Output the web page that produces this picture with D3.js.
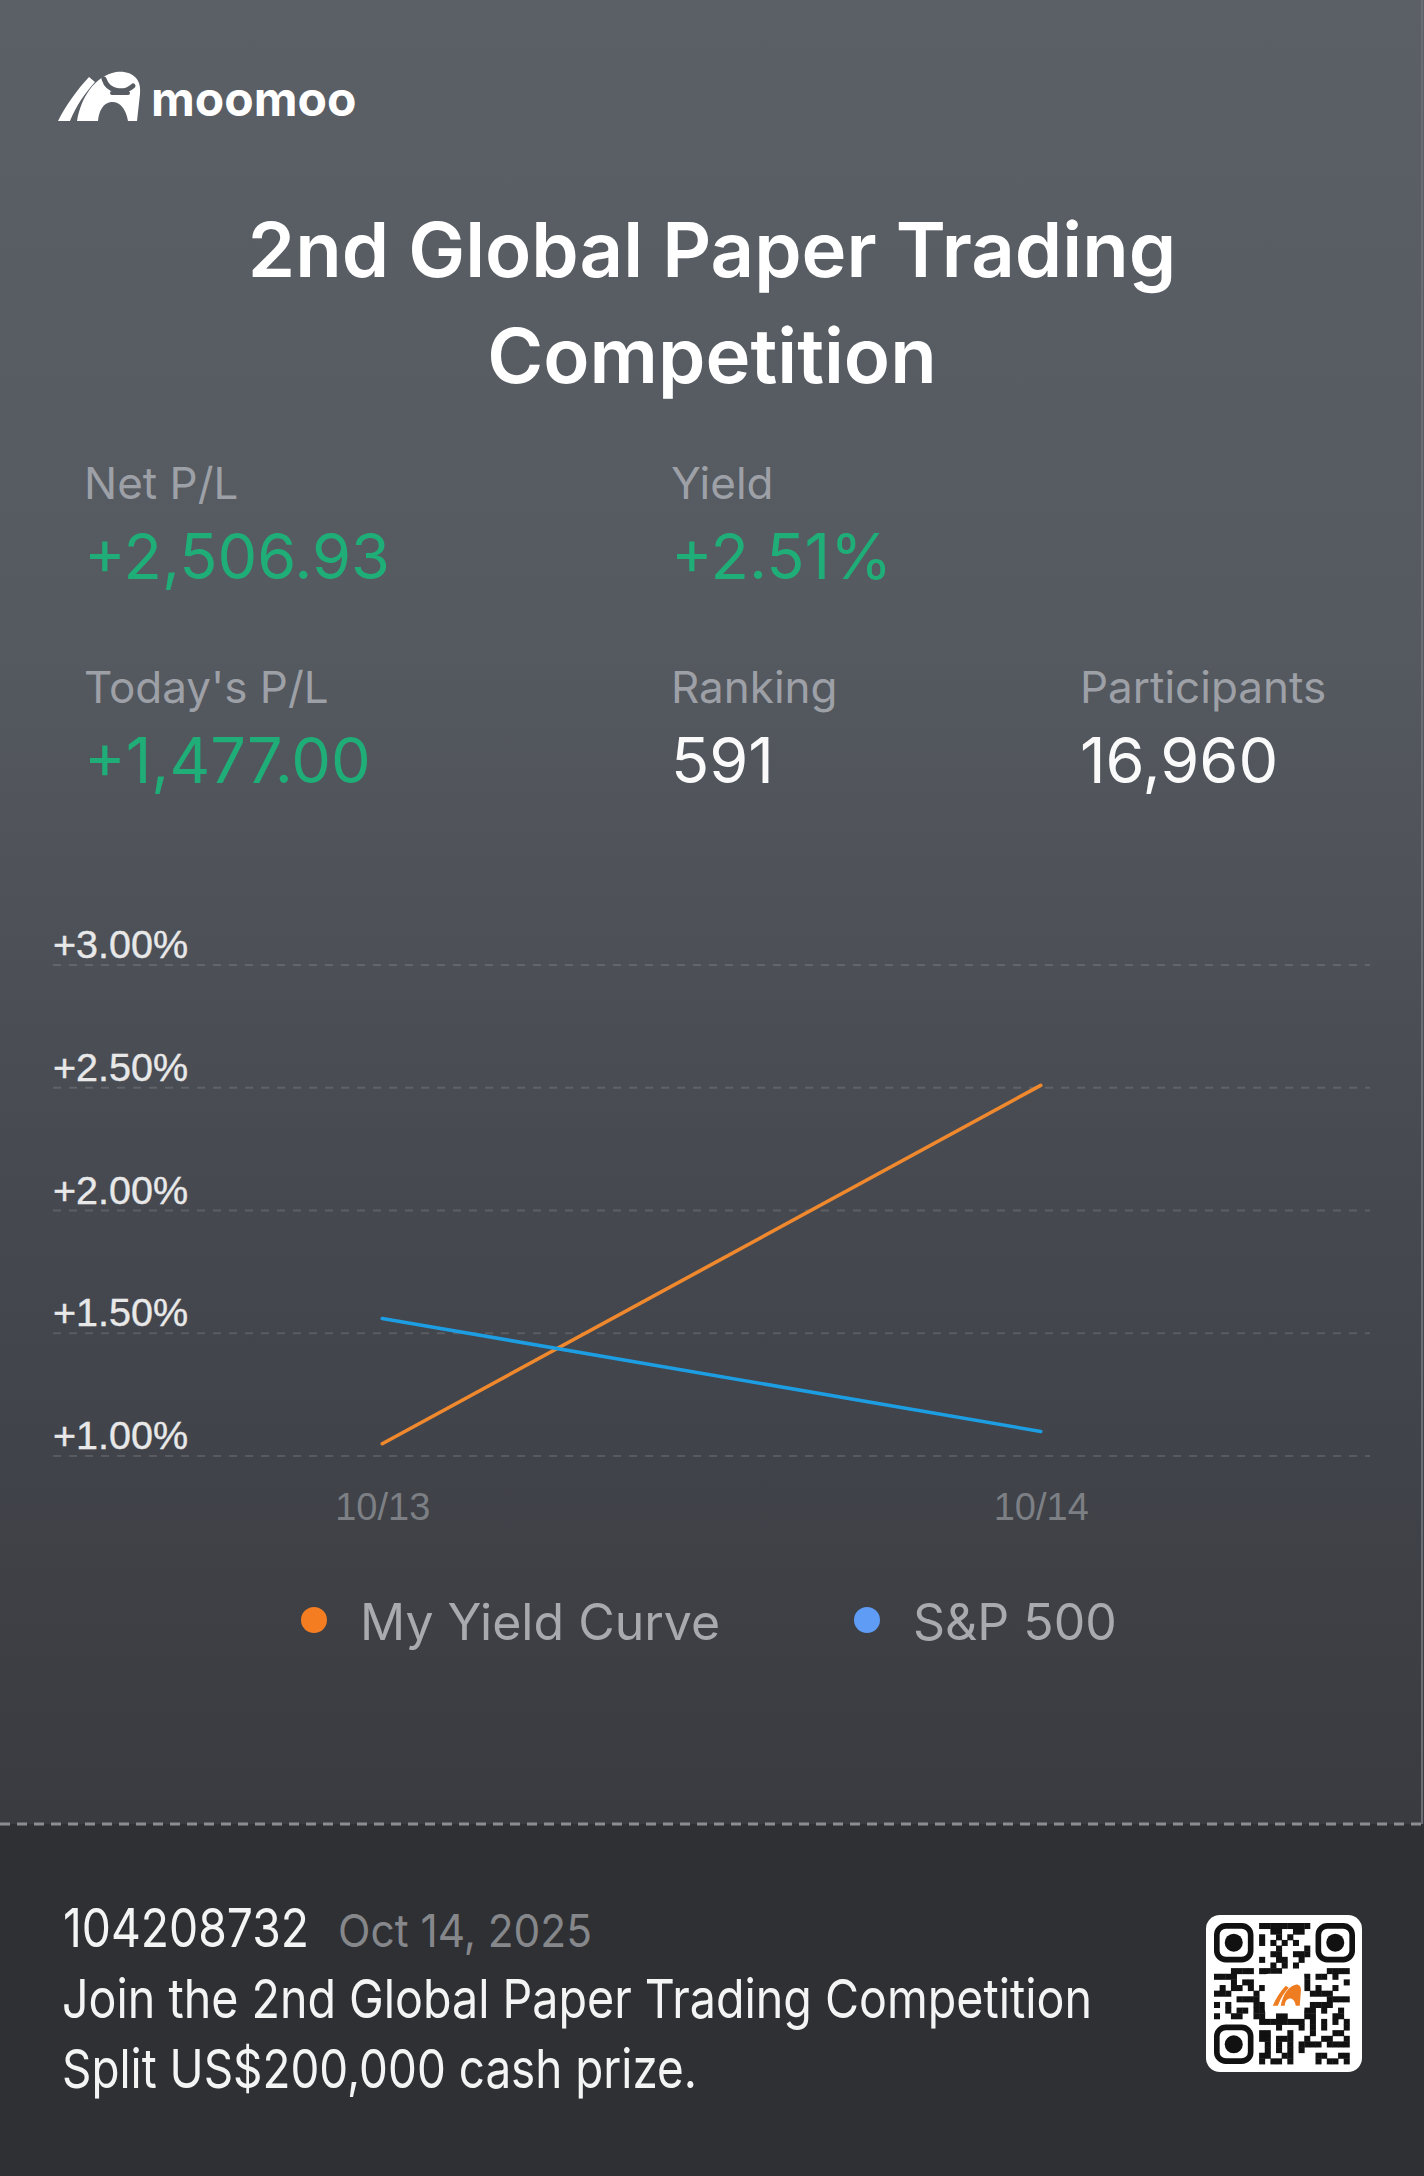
<!DOCTYPE html>
<html>
<head>
<meta charset="utf-8">
<script src="https://cdn.jsdelivr.net/npm/d3@7"></script>
<style>
  body { margin: 0; background: #2e3034; }
  svg { display: block; }
</style>
</head>
<body>
<div id="card"></div>
<script>
// ---- chart data ----
var dates = ["10/13", "10/14"];
var myYield = [1.05, 2.51];
var spYield = [1.56, 1.10];
var yTicks = [1.0, 1.5, 2.0, 2.5, 3.0];
var seriesNames = ["My Yield Curve", "S&P 500"];
var lineColors = ["#f0892e", "#1d9de2"];
var dotColors = ["#f47d22", "#5e9cf6"];

// ---- header stats ----
var statLabels = ["Net P/L", "Yield", "Today's P/L", "Ranking", "Participants"];
var statValues = ["+2,506.93", "+2.51%", "+1,477.00", "591", "16,960"];

var W = 1424, H = 2176;
var FONT = "Inter, 'Noto Sans', sans-serif";
var AXIS_FONT = "'Liberation Sans', Arial, sans-serif";

var svg = d3.select("#card").append("svg")
    .attr("width", W)
    .attr("height", H);

var defs = svg.append("defs");
var bg = defs.append("linearGradient")
    .attr("id", "bg")
    .attr("x1", 0).attr("y1", 0).attr("x2", 0).attr("y2", 1);
bg.append("stop").attr("offset", "0%").attr("stop-color", "#5b5f66");
bg.append("stop").attr("offset", "35%").attr("stop-color", "#555960");
bg.append("stop").attr("offset", "65%").attr("stop-color", "#464950");
bg.append("stop").attr("offset", "100%").attr("stop-color", "#393b40");

// backgrounds
svg.append("rect").attr("width", W).attr("height", 1824).attr("fill", "url(#bg)");
svg.append("rect").attr("y", 1824).attr("width", W).attr("height", H - 1824).attr("fill", "#2e3034");
svg.append("line")
    .attr("x1", W - 2).attr("x2", W - 2).attr("y1", 0).attr("y2", 1824)
    .attr("stroke", "#6a6e74").attr("stroke-width", 2);

// separator
svg.append("line")
    .attr("x1", 0).attr("x2", W).attr("y1", 1824).attr("y2", 1824)
    .attr("stroke", "#8b8d91").attr("stroke-width", 3)
    .attr("stroke-dasharray", "10,7");

// ---- logo ----
var logo = svg.append("g");
logo.append("path")
    .attr("d", "M58 121 L70 121 C76 106, 85 93, 95 82 L89 77 C77 90, 66 105, 58 121 Z")
    .attr("fill", "#fff");
logo.append("path")
    .attr("d", "M77 121 C81 97, 95 76, 116 72 C132 70, 142 79, 140 94 L137 121 L128 121 C126 108, 119 101, 111 102 C103 103, 99 111, 98 121 Z")
    .attr("fill", "#fff");
logo.append("path")
    .attr("d", "M104 79 C108 92, 124 94, 133 86")
    .attr("fill", "none").attr("stroke", "#575b62").attr("stroke-width", 5).attr("stroke-linecap", "round");
logo.append("path")
    .attr("d", "M112 93 L128 93")
    .attr("fill", "none").attr("stroke", "#575b62").attr("stroke-width", 4).attr("stroke-linecap", "round");
logo.append("text")
    .attr("x", 151).attr("y", 116)
    .attr("font-family", FONT).attr("font-weight", 700).attr("font-size", 48)
    .attr("fill", "#fff")
    .text("moomoo");

// ---- title ----
var titleLines = ["2nd Global Paper Trading", "Competition"];
svg.selectAll(".title")
    .data(titleLines)
    .join("text")
    .attr("class", "title")
    .attr("x", 712)
    .attr("y", (d, i) => 277 + i * 106)
    .attr("text-anchor", "middle")
    .attr("font-family", FONT).attr("font-weight", 600).attr("font-size", 76)
    .attr("fill", "#fff")
    .text(d => d);

// ---- stats ----
var statCols = [84, 671, 84, 671, 1080];
var statRows = [0, 0, 1, 1, 1];
var statGreen = [true, true, true, false, false];
var stats = svg.selectAll(".stat")
    .data(statLabels.map((l, i) => ({label: l, value: statValues[i], col: statCols[i], row: statRows[i], green: statGreen[i]})))
    .join("g")
    .attr("class", "stat")
    .attr("transform", d => "translate(" + d.col + "," + (499 + d.row * 204) + ")");
stats.append("text")
    .attr("font-family", FONT).attr("font-size", 44)
    .attr("fill", "#9da0a6")
    .text(d => d.label);
stats.append("text")
    .attr("y", 80)
    .attr("font-family", FONT).attr("font-size", 63)
    .attr("fill", d => d.green ? "#1fae78" : "#fafafa")
    .text(d => d.value);

// ---- chart ----
var x = d3.scalePoint()
    .domain(dates)
    .range([53, 1370])
    .padding(0.5);

var y = d3.scaleLinear()
    .domain([1, 3])
    .range([1456, 965]);

var grid = svg.append("g").attr("class", "grid");
grid.selectAll("line")
    .data(yTicks)
    .join("line")
    .attr("x1", 53).attr("x2", 1370)
    .attr("y1", d => y(d)).attr("y2", d => y(d))
    .attr("stroke", "rgba(255,255,255,0.13)")
    .attr("stroke-width", 2)
    .attr("stroke-dasharray", "8,8");

var fmt = d3.format("+.2f");
grid.selectAll("text")
    .data(yTicks)
    .join("text")
    .attr("x", 53)
    .attr("y", d => y(d) - 7)
    .attr("font-family", AXIS_FONT).attr("font-size", 39.5)
    .attr("fill", "#e8e8e9")
    .attr("stroke", "#e8e8e9").attr("stroke-width", 0.4)
    .text(d => fmt(d) + "%");

var xAxis = d3.axisBottom(x).tickSize(0).tickPadding(0);
var xg = svg.append("g")
    .attr("transform", "translate(0,1520)")
    .call(xAxis);
xg.select(".domain").remove();
xg.selectAll("text")
    .attr("dy", 0)
    .attr("font-family", AXIS_FONT).attr("font-size", 38)
    .attr("fill", "#7c7f84");

var line = d3.line()
    .x((d, i) => x(dates[i]))
    .y(d => y(d));

svg.selectAll(".series")
    .data([myYield, spYield])
    .join("path")
    .attr("class", "series")
    .attr("d", d => line(d))
    .attr("fill", "none")
    .attr("stroke", (d, i) => lineColors[i])
    .attr("stroke-width", 3.6)
    .attr("stroke-linecap", "round");

// ---- legend ----
var legendX = [314, 867];
var legend = svg.selectAll(".legend")
    .data(seriesNames)
    .join("g")
    .attr("class", "legend")
    .attr("transform", (d, i) => "translate(" + legendX[i] + ",1620)");
legend.append("circle")
    .attr("r", 13)
    .attr("fill", (d, i) => dotColors[i]);
legend.append("text")
    .attr("x", 46).attr("y", 20)
    .attr("font-family", FONT).attr("font-size", 50)
    .attr("fill", "#a8aaad")
    .text(d => d);

// ---- footer ----
svg.append("text")
    .attr("x", 63).attr("y", 1947)
    .attr("font-family", FONT).attr("font-size", 54)
    .attr("fill", "#f4f4f4")
    .attr("textLength", 246).attr("lengthAdjust", "spacingAndGlyphs")
    .text("104208732");
svg.append("text")
    .attr("x", 338).attr("y", 1947)
    .attr("font-family", FONT).attr("font-size", 45)
    .attr("fill", "#85878b")
    .attr("textLength", 254).attr("lengthAdjust", "spacingAndGlyphs")
    .text("Oct 14, 2025");
var footLines = ["Join the 2nd Global Paper Trading Competition", "Split US$200,000 cash prize."];
var footWidths = [1030, 635];
svg.selectAll(".foot")
    .data(footLines)
    .join("text")
    .attr("class", "foot")
    .attr("x", 62)
    .attr("y", (d, i) => 2018 + i * 70)
    .attr("font-family", FONT).attr("font-size", 54)
    .attr("fill", "#f4f4f4")
    .attr("textLength", (d, i) => footWidths[i]).attr("lengthAdjust", "spacingAndGlyphs")
    .text(d => d);

// ---- QR badge ----
var qr = svg.append("g").attr("transform", "translate(1206,1915)");
qr.append("rect").attr("width", 156).attr("height", 157).attr("rx", 14).attr("fill", "#fff");
var N = 25, cell = 5.64, off = 8;
var cells = [];
function inFinder(i, j) {
    return (i < 8 && j < 8) || (i < 8 && j > N - 9) || (i > N - 9 && j < 8);
}
for (var i = 0; i < N; i++) {
    for (var j = 0; j < N; j++) {
        if (inFinder(i, j)) continue;
        if (i >= 9 && i <= 15 && j >= 9 && j <= 15) continue;
        var h = (i * 37 + j * 61 + i * j * 13 + (i ^ j) * 7) % 17;
        if (h < 8) cells.push([i, j]);
    }
}
qr.selectAll(".mod")
    .data(cells)
    .join("rect")
    .attr("class", "mod")
    .attr("x", d => off + d[1] * cell)
    .attr("y", d => off + d[0] * cell)
    .attr("width", cell + 0.4).attr("height", cell + 0.4)
    .attr("fill", "#111");
var finders = [[0, 0], [0, N - 7], [N - 7, 0]];
var fg = qr.selectAll(".finder")
    .data(finders)
    .join("g")
    .attr("class", "finder")
    .attr("transform", d => "translate(" + (off + d[1] * cell) + "," + (off + d[0] * cell) + ")");
fg.append("rect")
    .attr("x", cell / 2).attr("y", cell / 2)
    .attr("width", cell * 6).attr("height", cell * 6)
    .attr("rx", 9).attr("fill", "none").attr("stroke", "#111").attr("stroke-width", cell);
fg.append("circle")
    .attr("cx", cell * 3.5).attr("cy", cell * 3.5).attr("r", cell * 1.6)
    .attr("fill", "#111");
var ic = qr.append("g").attr("transform", "translate(" + (off + 9 * cell) + "," + (off + 9 * cell) + ")");
ic.append("rect").attr("width", cell * 7).attr("height", cell * 7).attr("rx", 4).attr("fill", "#fff");
ic.append("path")
    .attr("d", "M8 32 L13 32 C16 24, 20 18, 24 14 L21 12 C15 18, 11 25, 8 32 Z M16 32 C18 21, 24 12, 31 11 C35 10, 37 14, 36 19 L35 32 L31 32 C30 26, 27 24, 24 25 C21 26, 20 29, 20 32 Z")
    .attr("fill", "#ee7d21");
</script>
</body>
</html>
